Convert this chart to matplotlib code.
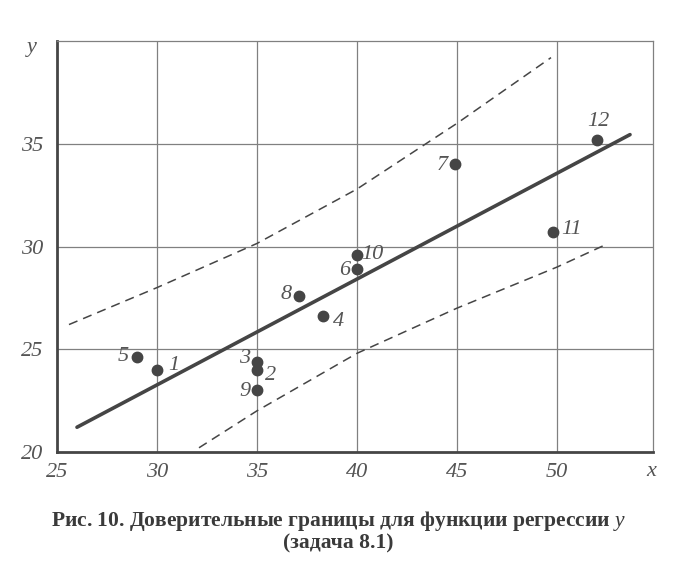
import matplotlib
matplotlib.use("Agg")
import matplotlib.pyplot as plt
import numpy as np

# observations (x, y) and their numbers
point_ids = ["1", "2", "3", "4", "5", "6", "7", "8", "9", "10", "11", "12"]
x_obs = [30.0, 35.0, 35.0, 38.3, 29.0, 40.0, 44.9, 37.1, 35.0, 40.0, 49.8, 52.0]
y_obs = [24.0, 24.0, 24.4, 26.6, 24.6, 28.9, 34.0, 27.6, 23.0, 29.6, 30.7, 35.2]

# regression line end points
line_x = [26.0, 53.65]
line_y = [21.2, 35.45]

# confidence bounds
upper_x = [25.6, 30.0, 35.0, 40.0, 45.0, 49.7]
upper_y = [26.2, 28.0, 30.15, 32.8, 36.0, 39.2]
lower_x = [32.1, 35.0, 40.0, 45.0, 50.0, 52.45]
lower_y = [20.2, 22.0, 24.8, 27.0, 29.0, 30.1]

xticks = [25, 30, 35, 40, 45, 50]
yticks = [20, 25, 30, 35]

# label offsets in points (dx, dy, ha)
label_pos = {
    "1": (8, 3, "left"), "2": (6, -4, "left"), "3": (-5, 2, "right"),
    "4": (7, -4, "left"), "5": (-6, 1, "right"), "6": (-5, -1, "right"),
    "7": (-5, -1, "right"), "8": (-5, 1, "right"), "9": (-5, -1, "right"),
    "10": (3, 0, "left"), "11": (6, 2, "left"), "12": (1, 13, "center"),
}

ink = "#454545"
grid_c = "#808080"
txt_c = "#555555"
serif = "Liberation Serif"

plt.rcParams["mathtext.fontset"] = "custom"
plt.rcParams["mathtext.it"] = "Liberation Serif:italic"
plt.rcParams["mathtext.rm"] = "Liberation Serif"

fig = plt.figure(figsize=(6.76, 5.72), dpi=100)
ax = fig.add_axes([0.0843, 0.210, 0.8817, 0.718])

ax.set_xlim(25, 54.8)
ax.set_ylim(20, 40)

for xv in xticks[1:]:
    ax.axvline(xv, color=grid_c, lw=0.9, zorder=1)
for yv in yticks[1:]:
    ax.axhline(yv, color=grid_c, lw=0.9, zorder=1)

ax.plot(upper_x, upper_y, color=ink, lw=1.1, ls=(0, (6, 4)), zorder=2)
ax.plot(lower_x, lower_y, color=ink, lw=1.1, ls=(0, (6, 4)), zorder=2)
ax.plot(line_x, line_y, color=ink, lw=2.6, solid_capstyle="round", zorder=3)
ax.plot(x_obs, y_obs, "o", color=ink, ms=7.5, zorder=4)

for pid, xv, yv in zip(point_ids, x_obs, y_obs):
    dx, dy, ha = label_pos[pid]
    ax.annotate(pid, (xv, yv), xytext=(dx, dy), textcoords="offset points",
                ha=ha, va="center", fontsize=16, fontstyle="italic",
                family=serif, color=txt_c)

for side in ["top", "right"]:
    ax.spines[side].set_color(grid_c)
    ax.spines[side].set_linewidth(0.9)
for side in ["left", "bottom"]:
    ax.spines[side].set_color(ink)
    ax.spines[side].set_linewidth(2.0)

ax.set_xticks(xticks)
ax.set_yticks(yticks)
ax.tick_params(axis="x", length=0, pad=8)
ax.tick_params(axis="y", length=0, pad=10)
for lab in ax.get_xticklabels() + ax.get_yticklabels():
    lab.set_fontfamily(serif)
    lab.set_fontstyle("italic")
    lab.set_fontsize(16)
    lab.set_color(txt_c)

fig.text(0.964, 0.175, "x", ha="center", va="center", fontsize=16,
         fontstyle="italic", family=serif, color=txt_c)
fig.text(0.047, 0.917, "y", ha="center", va="center", fontsize=16,
         fontstyle="italic", family=serif, color=txt_c)

fig.text(0.5, 0.089, "Рис. 10. Доверительные границы для функции регрессии $y$",
         ha="center", va="center", fontsize=15.5, fontweight="bold",
         family=serif, color="#3a3a3a")
fig.text(0.5, 0.049, "(задача 8.1)", ha="center", va="center", fontsize=15.5,
         fontweight="bold", family=serif, color="#3a3a3a")

fig.savefig("out.png", dpi=100)
